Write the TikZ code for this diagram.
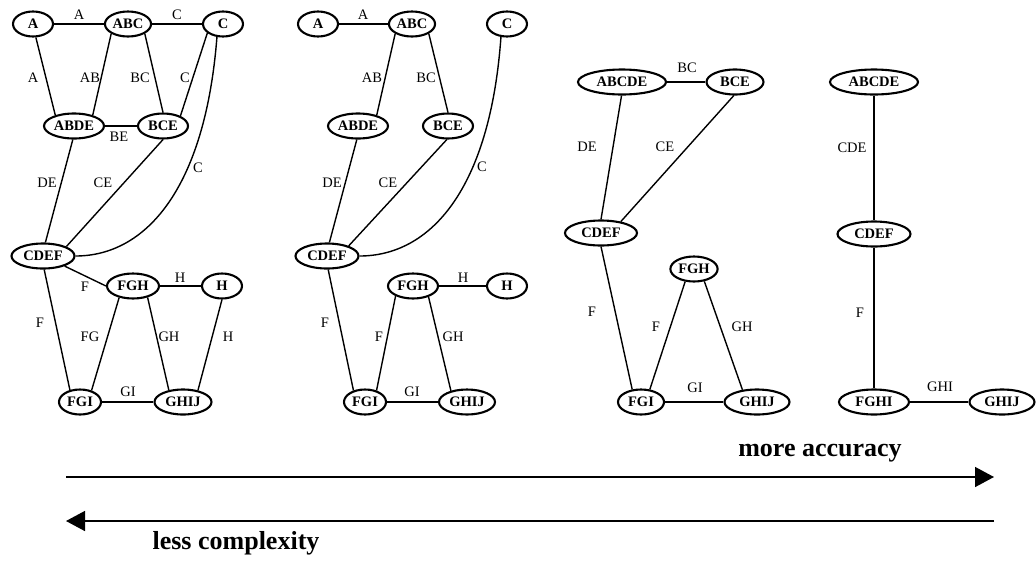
\documentclass[tikz,border=0pt]{standalone}
\usepackage{fontspec}
\setmainfont{Liberation Serif}
\usetikzlibrary{shapes.geometric,arrows.meta}
\begin{document}
\begin{tikzpicture}[x=1pt,y=-1pt,
  nd/.style={ellipse,draw,line width=2.1pt,inner sep=1pt,minimum height=25pt,font=\fontsize{14.5}{16}\selectfont\bfseries},
  lbl/.style={inner sep=0pt,font=\fontsize{14.5}{16}\selectfont},
  ed/.style={line width=1.4pt},
  bigarrow/.style={line width=1.5pt,-{Triangle[length=19pt,width=20pt]}},
  big/.style={inner sep=0pt,font=\fontsize{26}{30}\selectfont\bfseries}]
\useasboundingbox[fill=white] (0,0) rectangle (1036,563);

% ---------- graph 1 ----------
\node[nd,minimum width=40pt] (A1) at (33,24) {A};
\node[nd,minimum width=46pt] (ABC1) at (128,24) {ABC};
\node[nd,minimum width=40pt] (C1) at (223,24) {C};
\node[nd,minimum width=60pt] (ABDE1) at (74,126) {ABDE};
\node[nd,minimum width=50pt] (BCE1) at (163,126) {BCE};
\node[nd,minimum width=63pt] (CDEF1) at (43,256) {CDEF};
\node[nd,minimum width=52pt] (FGH1) at (133,286) {FGH};
\node[nd,minimum width=40pt] (H1) at (222,286) {H};
\node[nd,minimum width=42pt] (FGI1) at (80,402) {FGI};
\node[nd,minimum width=57pt] (GHIJ1) at (183,402) {GHIJ};

\draw[ed] (A1.east) -- (ABC1.west);
\draw[ed] (ABC1.east) -- (C1.west);
\draw[ed] (A1.-78) -- (ABDE1.150);
\draw[ed] (ABC1.-150) -- (ABDE1.30);
\draw[ed] (ABC1.-30) -- (BCE1.90);
\draw[ed] (C1.-150) -- (BCE1.30);
\draw[ed] (ABDE1.east) -- (BCE1.west);
\draw[ed] (ABDE1.-95) -- (CDEF1.80);
\draw[ed] (BCE1.-90) -- (CDEF1.22);
\draw[ed] (C1.-115) .. controls (205,190) and (145,256) .. (CDEF1.east);
\draw[ed] (CDEF1.-25) -- (FGH1.west);
\draw[ed] (CDEF1.-85) -- (FGI1.130);
\draw[ed] (FGH1.-140) -- (FGI1.45);
\draw[ed] (FGH1.-38) -- (GHIJ1.140);
\draw[ed] (FGH1.east) -- (H1.west);
\draw[ed] (H1.-90) -- (GHIJ1.38);
\draw[ed] (FGI1.east) -- (GHIJ1.west);

\node[lbl] (l1a) at (79,15) {A};
\node[lbl] (l1b) at (177,15) {C};
\node[lbl] (l1c) at (33,78) {A};
\node[lbl] (l1d) at (90,78) {AB};
\node[lbl] (l1e) at (140,78) {BC};
\node[lbl] (l1f) at (185,78) {C};
\node[lbl] (l1g) at (119,137) {BE};
\node[lbl] (l1h) at (198,168) {C};
\node[lbl] (l1i) at (47,183) {DE};
\node[lbl] (l1j) at (103,183) {CE};
\node[lbl] (l1k) at (85,287) {F};
\node[lbl] (l1l) at (40,323) {F};
\node[lbl] (l1m) at (90,337) {FG};
\node[lbl] (l1n) at (169,337) {GH};
\node[lbl] (l1o) at (228,337) {H};
\node[lbl] (l1p) at (180,278) {H};
\node[lbl] (l1q) at (128,392) {GI};

% ---------- graph 2 ----------
\node[nd,minimum width=40pt] (A2) at (318,24) {A};
\node[nd,minimum width=44pt] (ABC2) at (412,24) {ABC};
\node[nd,minimum width=40pt] (C2) at (507,24) {C};
\node[nd,minimum width=60pt] (ABDE2) at (358,126) {ABDE};
\node[nd,minimum width=50pt] (BCE2) at (448,126) {BCE};
\node[nd,minimum width=63pt] (CDEF2) at (327,256) {CDEF};
\node[nd,minimum width=50pt] (FGH2) at (413,286) {FGH};
\node[nd,minimum width=40pt] (H2) at (507,286) {H};
\node[nd,minimum width=42pt] (FGI2) at (365,402) {FGI};
\node[nd,minimum width=56pt] (GHIJ2) at (467,402) {GHIJ};

\draw[ed] (A2.east) -- (ABC2.west);
\draw[ed] (ABC2.-150) -- (ABDE2.30);
\draw[ed] (ABC2.-30) -- (BCE2.90);
\draw[ed] (ABDE2.-95) -- (CDEF2.80);
\draw[ed] (BCE2.-95) -- (CDEF2.25);
\draw[ed] (C2.-115) .. controls (490,190) and (430,256) .. (CDEF2.east);
\draw[ed] (CDEF2.-85) -- (FGI2.135);
\draw[ed] (FGH2.east) -- (H2.west);
\draw[ed] (FGH2.-150) -- (FGI2.45);
\draw[ed] (FGH2.-35) -- (GHIJ2.145);
\draw[ed] (FGI2.east) -- (GHIJ2.west);

\node[lbl] (l2a) at (363,15) {A};
\node[lbl] (l2b) at (372,78) {AB};
\node[lbl] (l2c) at (426,78) {BC};
\node[lbl] (l2d) at (482,167) {C};
\node[lbl] (l2e) at (332,183) {DE};
\node[lbl] (l2f) at (388,183) {CE};
\node[lbl] (l2g) at (463,278) {H};
\node[lbl] (l2h) at (325,323) {F};
\node[lbl] (l2i) at (379,337) {F};
\node[lbl] (l2j) at (453,337) {GH};
\node[lbl] (l2k) at (412,392) {GI};

% ---------- graph 3 ----------
\node[nd,minimum width=88pt] (ABCDE3) at (622,82) {ABCDE};
\node[nd,minimum width=57pt] (BCE3) at (735,82) {BCE};
\node[nd,minimum width=72pt] (CDEF3) at (601,233) {CDEF};
\node[nd,minimum width=46pt] (FGH3) at (694,269) {FGH};
\node[nd,minimum width=46pt] (FGI3) at (641,402) {FGI};
\node[nd,minimum width=65pt] (GHIJ3) at (757,402) {GHIJ};

\draw[ed] (ABCDE3.east) -- (BCE3.west);
\draw[ed] (ABCDE3.-92) -- (CDEF3.90);
\draw[ed] (BCE3.-95) -- (CDEF3.30);
\draw[ed] (CDEF3.-90) -- (FGI3.125);
\draw[ed] (FGH3.-125) -- (FGI3.55);
\draw[ed] (FGH3.-50) -- (GHIJ3.140);
\draw[ed] (FGI3.east) -- (GHIJ3.west);

\node[lbl] (l3a) at (687,68) {BC};
\node[lbl] (l3b) at (587,147) {DE};
\node[lbl] (l3c) at (665,147) {CE};
\node[lbl] (l3d) at (592,312) {F};
\node[lbl] (l3e) at (656,327) {F};
\node[lbl] (l3f) at (742,327) {GH};
\node[lbl] (l3g) at (695,388) {GI};

% ---------- graph 4 ----------
\node[nd,minimum width=88pt] (ABCDE4) at (874,82) {ABCDE};
\node[nd,minimum width=73pt] (CDEF4) at (874,234) {CDEF};
\node[nd,minimum width=70pt] (FGHI4) at (874,402) {FGHI};
\node[nd,minimum width=65pt] (GHIJ4) at (1002,402) {GHIJ};

\draw[ed] (ABCDE4.south) -- (CDEF4.north);
\draw[ed] (CDEF4.south) -- (FGHI4.north);
\draw[ed] (FGHI4.east) -- (GHIJ4.west);

\node[lbl] (l4a) at (852,148) {CDE};
\node[lbl] (l4b) at (860,313) {F};
\node[lbl] (l4c) at (940,387) {GHI};

% ---------- arrows ----------
\coordinate (t1) at (66,477);
\coordinate (t2) at (994,477);
\coordinate (b1) at (994,521);
\coordinate (b2) at (66,521);
\draw[bigarrow] (t1) -- (t2);
\draw[bigarrow] (b1) -- (b2);
\node[big] (more) at (820,453) {more accuracy};
\node[big] (less) at (236,543) {less complexity};
\end{tikzpicture}
\end{document}
